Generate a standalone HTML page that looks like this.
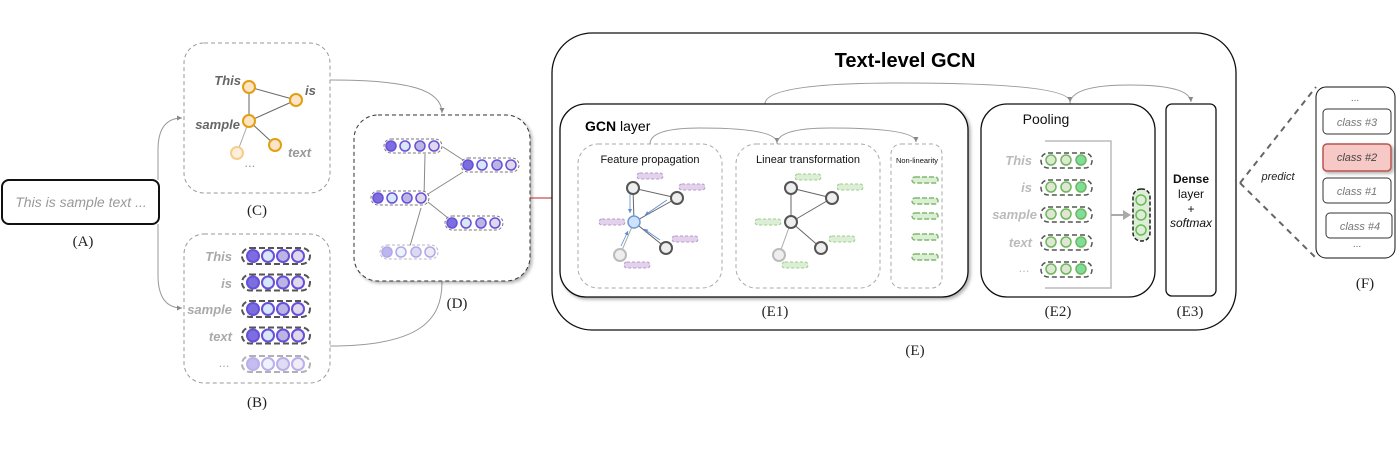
<!DOCTYPE html>
<html><head><meta charset="utf-8"><style>
html,body{margin:0;padding:0;background:#fff;}
svg{display:block;}
text{font-family:"Liberation Sans",sans-serif;}
.serif{font-family:"Liberation Serif",serif;font-size:15px;fill:#222;}
</style></head><body>
<svg width="1400" height="468" viewBox="0 0 1400 468" xmlns="http://www.w3.org/2000/svg">
<defs>
<marker id="ar" markerWidth="6" markerHeight="6" refX="5" refY="3" orient="auto"><path d="M0,0.5 L5,3 L0,5.5z" fill="#888"/></marker>
<marker id="ab" markerWidth="6" markerHeight="6" refX="5" refY="3" orient="auto"><path d="M0,0.5 L5,3 L0,5.5z" fill="#5b8bd0"/></marker>
<filter id="sh" x="-10%" y="-10%" width="130%" height="130%"><feDropShadow dx="2" dy="2" stdDeviation="1.5" flood-color="#000" flood-opacity="0.3"/></filter>
</defs>

<!-- A -->
<rect x="2" y="180" width="157" height="44" rx="7" fill="#fff" stroke="#111" stroke-width="2"/>
<text x="81" y="207" text-anchor="middle" font-size="14" font-style="italic" fill="#999">This is sample text ...</text>
<text x="83" y="246" text-anchor="middle" class="serif">(A)</text>
<!-- A connectors -->
<path d="M158,180 L158,150 Q158,118 182,118" fill="none" stroke="#999" stroke-width="1" marker-end="url(#ar)"/>
<path d="M158,224 L158,275 Q158,308 182,308" fill="none" stroke="#999" stroke-width="1" marker-end="url(#ar)"/>

<!-- C -->
<rect x="184" y="43" width="146" height="150" rx="20" fill="#fff" stroke="#999" stroke-dasharray="4,3"/>
<g stroke="#666" stroke-width="1">
<line x1="249" y1="87" x2="296" y2="100"/><line x1="249" y1="87" x2="249" y2="121"/>
<line x1="249" y1="121" x2="296" y2="100"/><line x1="249" y1="121" x2="275" y2="145"/>
<line x1="249" y1="121" x2="237" y2="153" stroke="#aaa"/>
</g>
<g fill="#fde3c8" stroke="#e0a010" stroke-width="2">
<circle cx="249" cy="87" r="6"/><circle cx="296" cy="100" r="6"/><circle cx="249" cy="121" r="6"/><circle cx="275" cy="145" r="6"/>
<circle cx="237" cy="153" r="6" stroke="#f5cf8a" fill="#fdeedd"/>
</g>
<g font-weight="bold" font-style="italic" font-size="13" fill="#666">
<text x="241" y="85" text-anchor="end">This</text>
<text x="305" y="95">is</text>
<text x="240" y="129" text-anchor="end">sample</text>
<text x="288" y="157" fill="#999">text</text>
<text x="245" y="167" fill="#999" font-weight="normal">...</text>
</g>
<text x="257" y="215" text-anchor="middle" class="serif">(C)</text>

<!-- B -->
<rect x="184" y="234" width="146" height="149" rx="20" fill="#fff" stroke="#999" stroke-dasharray="4,3"/>
<g font-weight="bold" font-style="italic" font-size="13" fill="#aaa" text-anchor="end">
<text x="232" y="261">This</text><text x="232" y="288">is</text><text x="232" y="314">sample</text><text x="232" y="341">text</text>
<text x="230" y="367" font-weight="normal">...</text>
</g>
<g id="brow">
<rect x="242" y="248" width="68" height="16" rx="8" fill="none" stroke="#555" stroke-width="2" stroke-dasharray="6,3"/>
<circle cx="253" cy="256" r="6" fill="#7b6ee0" stroke="#6a4fd8" stroke-width="2"/>
<circle cx="268" cy="256" r="6" fill="#d8e8fb" stroke="#6a4fd8" stroke-width="2"/>
<circle cx="283" cy="256" r="6" fill="#b9b6e6" stroke="#6a4fd8" stroke-width="2"/>
<circle cx="298" cy="256" r="6" fill="#e0d8ec" stroke="#6a4fd8" stroke-width="2"/>
</g>
<use href="#brow" y="26.5"/>
<use href="#brow" y="53"/>
<use href="#brow" y="79.5"/>
<use href="#brow" y="108" opacity="0.45"/>
<text x="257" y="407" text-anchor="middle" class="serif">(B)</text>

<!-- C,B -> D connectors -->
<path d="M330,80 C410,80 442,90 442,113" fill="none" stroke="#999" marker-end="url(#ar)"/>
<path d="M330,346 C420,346 442,320 442,282" fill="none" stroke="#999"/>

<!-- D -->
<rect x="354" y="115" width="176" height="166" rx="24" fill="#fff" stroke="#333" stroke-dasharray="4,3" filter="url(#sh)"/>
<g stroke="#888">
<line x1="425" y1="154" x2="424" y2="198"/><line x1="443" y1="147" x2="463" y2="160"/>
<line x1="428" y1="194" x2="463" y2="172"/><line x1="428" y1="202" x2="448" y2="218"/>
<line x1="421" y1="208" x2="410" y2="246"/>
</g>
<g id="drow">
<rect x="384" y="139" width="58" height="14" rx="7" fill="#fff" stroke="#777" stroke-dasharray="3,2"/>
<circle cx="391" cy="146" r="5" fill="#7b6ee0" stroke="#6a4fd8" stroke-width="1.5"/>
<circle cx="405" cy="146" r="5" fill="#d8e8fb" stroke="#6a4fd8" stroke-width="1.5"/>
<circle cx="420" cy="146" r="5" fill="#b9b6e6" stroke="#6a4fd8" stroke-width="1.5"/>
<circle cx="434" cy="146" r="5" fill="#e0d8ec" stroke="#6a4fd8" stroke-width="1.5"/>
</g>
<use href="#drow" x="77" y="19"/>
<use href="#drow" x="-13" y="52"/>
<use href="#drow" x="61" y="77"/>
<use href="#drow" x="-4" y="106" opacity="0.5"/>
<text x="457" y="308" text-anchor="middle" class="serif">(D)</text>
<line x1="530" y1="198" x2="553" y2="198" stroke="#b22" stroke-width="1"/>

<!-- E -->
<rect x="552" y="33" width="684" height="297" rx="40" fill="#fff" stroke="#111" stroke-width="1.3"/>
<text x="905" y="67" text-anchor="middle" font-size="20" font-weight="bold" fill="#000">Text-level GCN</text>
<text x="915" y="355" text-anchor="middle" class="serif">(E)</text>
<path d="M765,104 Q765,83 900,83 Q1070,83 1070,102" fill="none" stroke="#999" marker-end="url(#ar)"/>
<path d="M1070,104 Q1070,85 1130,85 Q1190,85 1191,102" fill="none" stroke="#999" marker-end="url(#ar)"/>

<!-- E1 -->
<rect x="560" y="104" width="408" height="193" rx="26" fill="#fff" stroke="#111" stroke-width="1.3" filter="url(#sh)"/>
<text x="585" y="131" font-size="14" fill="#000"><tspan font-weight="bold">GCN</tspan> layer</text>
<rect x="578" y="144" width="144" height="144" rx="20" fill="#fff" stroke="#aaa" stroke-dasharray="4,3"/>
<rect x="736" y="144" width="144" height="144" rx="20" fill="#fff" stroke="#aaa" stroke-dasharray="4,3"/>
<rect x="891" y="144" width="51" height="144" rx="10" fill="#fff" stroke="#aaa" stroke-dasharray="4,3"/>
<path d="M650,144 Q650,128 700,128 Q777,128 777,143" fill="none" stroke="#999" marker-end="url(#ar)"/>
<path d="M777,144 Q777,128 830,128 Q916,128 916,142" fill="none" stroke="#999" marker-end="url(#ar)"/>
<text x="650" y="163" text-anchor="middle" font-size="11" fill="#111">Feature propagation</text>
<text x="808" y="163" text-anchor="middle" font-size="11" fill="#111">Linear transformation</text>
<text x="917" y="163" text-anchor="middle" font-size="7.5" fill="#111">Non-linearity</text>
<!-- FP graph -->
<g stroke="#666" stroke-width="1">
<line x1="633" y1="188" x2="677" y2="198"/><line x1="633" y1="188" x2="634" y2="222"/>
<line x1="634" y1="222" x2="677" y2="198"/><line x1="634" y1="222" x2="666" y2="248"/>
<line x1="634" y1="222" x2="620" y2="255" stroke="#aaa"/>
</g>
<g stroke="#5b8bd0" stroke-width="0.8" marker-end="url(#ab)">
<line x1="630" y1="193" x2="630" y2="213"/><line x1="667" y1="200" x2="645" y2="215"/>
<line x1="660" y1="240" x2="644" y2="229"/><line x1="621" y1="246" x2="628" y2="231"/>
</g>
<g fill="#eee" stroke="#555" stroke-width="2">
<circle cx="633" cy="188" r="6"/><circle cx="677" cy="198" r="6"/><circle cx="666" cy="248" r="6"/>
<circle cx="620" cy="255" r="6" stroke="#bbb"/>
</g>
<circle cx="634" cy="222" r="6" fill="#cfe2fb" stroke="#6d9ad8" stroke-width="1.5"/>
<g fill="#e2d2ec" stroke="#b898cc" stroke-dasharray="3,2">
<rect x="637" y="173" width="26" height="6" rx="3"/><rect x="679" y="184" width="26" height="6" rx="3"/>
<rect x="599" y="219" width="26" height="6" rx="3"/><rect x="672" y="236" width="26" height="6" rx="3"/>
<rect x="624" y="262" width="26" height="6" rx="3"/>
</g>
<!-- LT graph -->
<g stroke="#666" stroke-width="1">
<line x1="791" y1="188" x2="832" y2="198"/><line x1="791" y1="188" x2="791" y2="222"/>
<line x1="791" y1="222" x2="832" y2="198"/><line x1="791" y1="222" x2="821" y2="248"/>
<line x1="791" y1="222" x2="779" y2="255" stroke="#aaa"/>
</g>
<g fill="#eee" stroke="#555" stroke-width="2">
<circle cx="791" cy="188" r="6"/><circle cx="832" cy="198" r="6"/><circle cx="791" cy="222" r="6"/><circle cx="821" cy="248" r="6"/>
<circle cx="779" cy="255" r="6" stroke="#bbb"/>
</g>
<g fill="#dcefd6" stroke="#9ccc8c" stroke-dasharray="3,2">
<rect x="795" y="174" width="26" height="6" rx="3"/><rect x="837" y="184" width="26" height="6" rx="3"/>
<rect x="755" y="219" width="26" height="6" rx="3"/><rect x="829" y="236" width="26" height="6" rx="3"/>
<rect x="782" y="262" width="26" height="6" rx="3"/>
</g>
<g fill="#dcefd6" stroke="#7fba6c" stroke-width="1.5" stroke-dasharray="5,2">
<rect x="912" y="177" width="26" height="6" rx="3"/><rect x="912" y="198" width="26" height="6" rx="3"/>
<rect x="912" y="213" width="26" height="6" rx="3"/><rect x="912" y="234" width="26" height="6" rx="3"/>
<rect x="912" y="254" width="26" height="6" rx="3"/>
</g>
<text x="775" y="316" text-anchor="middle" class="serif">(E1)</text>

<!-- E2 Pooling -->
<rect x="981" y="104" width="174" height="193" rx="26" fill="#fff" stroke="#111" stroke-width="1.3"/>
<text x="1046" y="124" text-anchor="middle" font-size="14" fill="#111">Pooling</text>
<polyline points="1045,141 1111,141 1111,288 1045,288" fill="none" stroke="#bbb" stroke-width="1.5"/>
<line x1="1111" y1="215" x2="1124" y2="215" stroke="#aaa" stroke-width="2"/>
<path d="M1123,210 L1131,215 L1123,220z" fill="#aaa"/>
<g font-weight="bold" font-style="italic" font-size="13" fill="#bbb" text-anchor="end">
<text x="1032" y="165">This</text><text x="1032" y="192">is</text><text x="1037" y="219">sample</text><text x="1032" y="247">text</text>
<text x="1030" y="272" font-weight="normal">...</text>
</g>
<g id="prow">
<rect x="1041" y="153" width="51" height="15" rx="7" fill="none" stroke="#555" stroke-width="1.5" stroke-dasharray="5,3"/>
<circle cx="1051" cy="160" r="5" fill="#dfe6d4" stroke="#6db85a" stroke-width="1.5"/>
<circle cx="1066" cy="160" r="5" fill="#dfe6d4" stroke="#6db85a" stroke-width="1.5"/>
<circle cx="1081" cy="160" r="5" fill="#7fdc9a" stroke="#6db85a" stroke-width="1.5"/>
</g>
<use href="#prow" y="27"/><use href="#prow" y="54"/><use href="#prow" y="82"/><use href="#prow" y="109"/>
<rect x="1133" y="189" width="17" height="52" rx="8" fill="#dcefd6" stroke="#222" stroke-width="1.5" stroke-dasharray="4,2"/>
<g fill="#dcefd6" stroke="#6db85a" stroke-width="1.5">
<circle cx="1141" cy="200" r="5"/><circle cx="1141" cy="215" r="5"/><circle cx="1141" cy="230" r="5"/>
</g>
<text x="1058" y="316" text-anchor="middle" class="serif">(E2)</text>

<!-- E3 -->
<rect x="1166" y="104" width="50" height="192" rx="6" fill="#fff" stroke="#111" stroke-width="1.3"/>
<g text-anchor="middle" font-size="12" fill="#111">
<text x="1191" y="183" font-weight="bold">Dense</text>
<text x="1191" y="198">layer</text>
<text x="1191" y="213">+</text>
<text x="1191" y="227" font-style="italic">softmax</text>
</g>
<text x="1190" y="316" text-anchor="middle" class="serif">(E3)</text>

<!-- F -->
<line x1="1240" y1="183" x2="1316" y2="87" stroke="#666" stroke-width="2" stroke-dasharray="6,5"/>
<line x1="1240" y1="183" x2="1316" y2="258" stroke="#666" stroke-width="2" stroke-dasharray="6,5"/>
<text x="1278" y="180" text-anchor="middle" font-size="11" font-style="italic" fill="#222">predict</text>
<rect x="1316" y="87" width="79" height="171" rx="10" fill="#fff" stroke="#111"/>
<text x="1355" y="101" text-anchor="middle" font-size="10" fill="#666">...</text>
<rect x="1323" y="109" width="68" height="25" rx="4" fill="#fff" stroke="#333"/>
<text x="1357" y="126" text-anchor="middle" font-size="11" font-style="italic" fill="#777">class #3</text>
<rect x="1323" y="144" width="68" height="27" rx="4" fill="#f7c9c6" stroke="#b85450" stroke-width="1.5" filter="url(#sh)"/>
<text x="1357" y="161" text-anchor="middle" font-size="11" font-style="italic" fill="#444">class #2</text>
<rect x="1323" y="178" width="68" height="25" rx="4" fill="#fff" stroke="#333"/>
<text x="1357" y="195" text-anchor="middle" font-size="11" font-style="italic" fill="#777">class #1</text>
<rect x="1326" y="213" width="66" height="25" rx="4" fill="#fff" stroke="#333"/>
<text x="1360" y="230" text-anchor="middle" font-size="11" font-style="italic" fill="#777">class #4</text>
<text x="1357" y="247" text-anchor="middle" font-size="10" fill="#666">...</text>
<text x="1365" y="288" text-anchor="middle" class="serif">(F)</text>
</svg>
</body></html>
